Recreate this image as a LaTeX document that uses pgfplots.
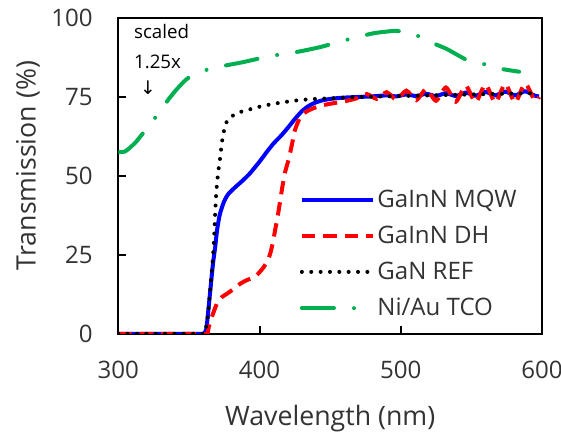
\documentclass[border=0pt]{standalone}
\usepackage{pgfplots}
\pgfplotsset{compat=1.18}
\usepackage{fontspec}
\setmainfont{Open Sans}
\newfontfamily\symfont{DejaVu Sans}
\definecolor{tcogreen}{RGB}{0,176,80}

\begin{document}
\begin{tikzpicture}
\begin{axis}[
  name=ax,
  width=317pt, height=236.25pt, scale only axis,
  xmin=300, xmax=600, ymin=0, ymax=100,
  xtick={300,400,500,600}, ytick={0,25,50,75,100},
  tick pos=left, tick align=inside,
  major tick length=6pt,
  axis line style={line width=1.5pt},
  tick style={line width=1.5pt, black},
  /pgf/number format/assume math mode=true,
  tick label style={font=\fontsize{18}{20}\selectfont, inner sep=0pt, text=black!80},
  x tick label style={anchor=north, yshift=-20pt},
  y tick label style={anchor=east, xshift=-19pt},
  xlabel={Wavelength (nm)}, ylabel={Transmission (\%)},
  label style={font=\fontsize{20}{22}\selectfont, inner sep=0pt, text=black!80},
  xlabel style={at={(axis description cs:0.5,-0.292)}, anchor=base},
  ylabel style={at={(axis description cs:-0.195,0.533)}, anchor=base},
  legend style={at={(axis description cs:0.428,0.465)}, anchor=north west,
    draw=none, fill=none, inner sep=0pt, row sep=8.5pt,
    font=\fontsize{18}{20}\selectfont, text=black!80,
    /tikz/every even column/.append style={column sep=3pt}},
  legend cell align=left,
  legend image code/.code={\draw[#1] (0pt,0pt) -- (53pt,0pt);},
]
% GaInN MQW
\addplot[blue, line width=3pt, smooth, tension=0.4] coordinates {
  (300,0) (355,0) (360,0) (362,1) (363,4) (365,13) (367,22) (368.6,27.4)
  (370,33) (372,38) (375,42) (378,44.3) (383,46.5) (388,48.5) (393,50.7)
  (400,54.5) (405,57.5) (410,60.3) (415,62.6) (420,65.2) (425,68)
  (430,70.5) (435,72.2) (440,73.3) (445,74) (452,74.5) (460,74.8)
  (470,75) (480,75.2) (490,75.5) (497,75.2) (504,75.8) (511,75.3)
  (518,76) (525,75.3) (532,76.2) (539,75.3) (546,76.4) (553,75.4)
  (560,76.6) (567,75.5) (574,76.7) (581,75.5) (588,76.8) (595,75.4) (598,75.2)
};
% GaInN DH
\addplot[red, line width=3pt, dash pattern=on 10pt off 6pt, smooth, tension=0.4] coordinates {
  (300,0) (358,0) (363,0) (364,2) (366,5) (369.8,9.5) (373,11.5) (377,12.7)
  (382,14.3) (386.5,15.9) (391,17) (395.8,17.8) (399,19) (402.8,21)
  (405.5,23) (407.6,25.4) (409.5,29) (411,32.7) (413,37.5) (414.6,42)
  (416,46) (418,51) (420.5,55) (423,60) (425,64.4) (428.8,68.6)
  (433,70.3) (438,71.4) (445,72.4) (452,73) (460,73.6)
  (469,74.6) (476,75.9) (483,74.4) (490,76.5) (497,74.2) (504,77)
  (511,74) (518,77.5) (525,73.8) (532,78) (539,73.5) (546,78.6)
  (553,73.3) (560,79) (567,73.2) (574,79.2) (581,73.2) (588,79.3)
  (595,73.8) (598,75)
};
% GaN REF
\addplot[black, line width=3pt, line cap=round, dash pattern=on 0pt off 7pt, smooth, tension=0.4] coordinates {
  (300,0) (355,0) (361,0) (362,1.5) (363.5,6) (365,13.6) (367.5,27.4)
  (369,42) (370,48) (371,52) (372.2,56) (373.5,61) (375.7,66) (378,68)
  (381.5,69.2) (386,70.2) (391,70.8) (398,71.7) (405,72.4) (415,73.2)
  (428,74) (440,74.4) (452,74.6) (470,75) (490,75.2) (510,75.4)
  (530,75.6) (550,75.8) (570,76) (598,76.2)
};
% Ni/Au TCO
\addplot[tcogreen, line width=3pt, line cap=round,
  dash pattern=on 24pt off 15pt on 0pt off 15pt, smooth, tension=0.4] coordinates {
  (300,57.5) (305,57.8) (312,60.5) (318,63.8) (322.6,66.3) (331,71.4)
  (336,74.5) (341.5,77.5) (348,80.5) (354,82.3) (360,83.3) (374,84.8)
  (388,86) (400,87.2) (412.5,88.3) (427,89.3) (443,90.8) (455,92.3)
  (466,93.6) (481,95.2) (494.6,95.9) (500,95.8) (506.7,95.2) (514,94)
  (520.8,92.4) (532.6,90.2) (547,86.7) (560,85.3) (570,84) (583.8,83)
};
\legend{GaInN MQW, GaInN DH, GaN REF, Ni/Au TCO}
\node[anchor=west, inner sep=0pt, font=\fontsize{14}{16}\selectfont] at (axis cs:311,95.6) {scaled};
\node[anchor=west, inner sep=0pt, font=\fontsize{14}{16}\selectfont] at (axis cs:311,86) {1.25x};
\node[inner sep=0pt, font=\symfont\fontsize{14}{16}\selectfont] at (axis cs:321,77.8) {↓};
\end{axis}
\pgfresetboundingbox
\path[use as bounding box] ([shift={(-88.5pt,-73.5pt)}]ax.south west)
  rectangle ([shift={(14.25pt,13.5pt)}]ax.north east);
\end{tikzpicture}
\end{document}
